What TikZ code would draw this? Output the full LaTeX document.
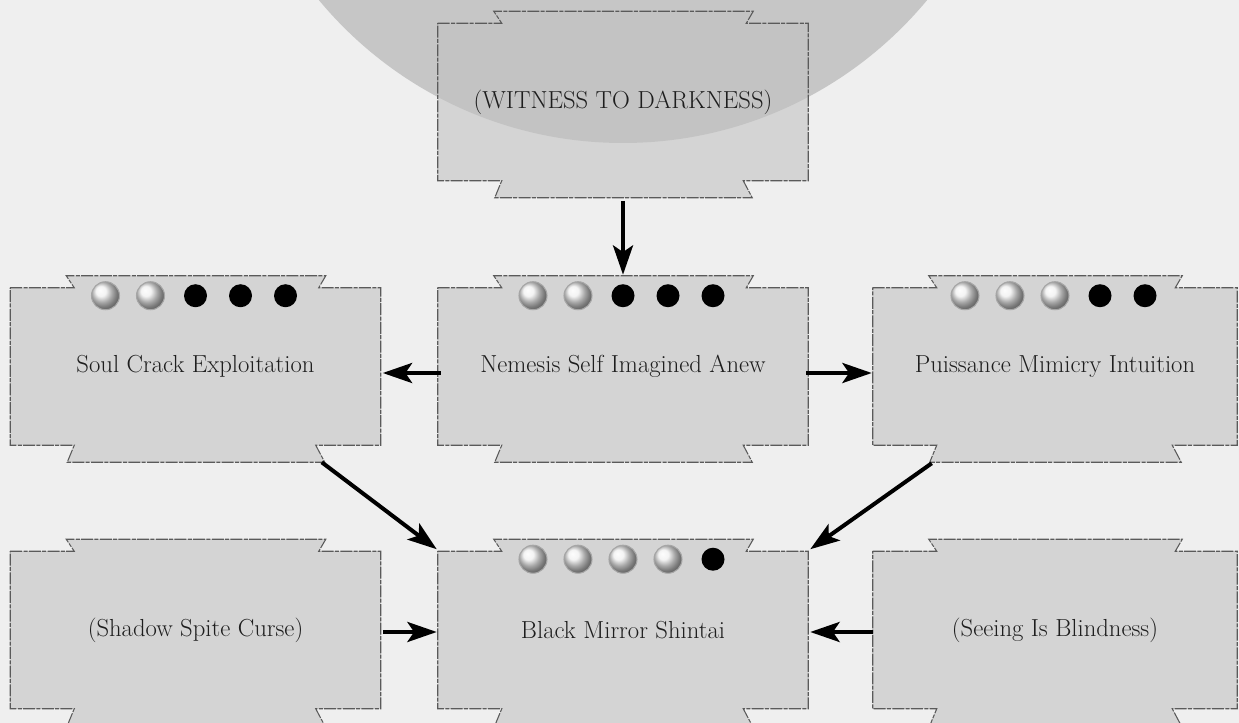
\documentclass[tikz,border=0pt]{standalone}
\usetikzlibrary{calc,arrows.meta,backgrounds,shadings}
\definecolor{bgc}{HTML}{EFEFEF}
\definecolor{circc}{HTML}{C6C6C6}
\definecolor{boxc}{HTML}{C2C2C2}
\definecolor{edgec}{HTML}{5A5A5A}
\definecolor{txtc}{HTML}{1E1E1E}
\newcommand\tabshape[1]{%
  \path[tabstyle] (#1.north west) -- ++(64,0) -- ++(-8,-12)
    -- ($(#1.north east)+(-55,-12)$) -- ++(-7,12) -- (#1.north east)
    -- (#1.south east) -- ++(-65,0) -- ++(9,17)
    -- ($(#1.south west)+(57,17)$) -- ++(7,-17) -- (#1.south west) -- cycle;}
\newcommand\rankdots[2]{%
  \foreach \k in {1,...,5}{%
    \ifnum\k>#2
      \fill[black] ($(#1.north)+({(\k-3)*45},8)$) circle[radius=11.5];
    \else
      \shade[ball color=gray!12] ($(#1.north)+({(\k-3)*45},8)$) circle[radius=14];
      \draw[gray!70, line width=0.8pt] ($(#1.north)+({(\k-3)*45},8)$) circle[radius=14];
    \fi}}
\begin{document}
\begin{tikzpicture}[x=0.75pt,y=-0.75pt,
  box/.style={draw=none, minimum width=277.5pt, minimum height=117.75pt,
    inner sep=0pt, text=txtc, font=\fontsize{18.5pt}{21pt}\selectfont},
  widebox/.style={box, minimum width=273pt},
  tabstyle/.style={fill=boxc, fill opacity=0.6, draw=edgec, line width=0.8pt,
    dash pattern=on 9pt off 1pt on 3pt off 1pt},
  arr/.style={line width=3pt, -{Stealth[length=22pt,width=15pt,inset=5pt]}}]
\useasboundingbox (0,0) rectangle (1239,723);
\node[box] (wit) at (623,102) {(WITNESS TO DARKNESS)};
\node[box] (soul) at (195.5,366.5) {Soul Crack Exploitation};
\node[box] (nem) at (623,366.5) {Nemesis Self Imagined Anew};
\node[widebox] (pui) at (1055,366.5) {Puissance Mimicry Intuition};
\node[box] (shad) at (195.5,630) {(Shadow Spite Curse)};
\node[box] (black) at (623,630) {Black Mirror Shintai};
\node[widebox] (see) at (1055,630) {(Seeing Is Blindness)};
\begin{pgfonlayer}{background}
  \fill[bgc] (0,0) rectangle (1239,723);
  \begin{scope}
    \clip (0,0) rectangle (1239,723);
    \fill[circc] (623,-252) circle[radius=395];
  \end{scope}
  \foreach \n in {wit,soul,nem,pui,shad,black,see}{\tabshape{\n}}
\end{pgfonlayer}
\rankdots{soul}{2}
\rankdots{nem}{2}
\rankdots{pui}{3}
\rankdots{black}{4}
\draw[arr] ($(wit.south)+(0,20)$) -- ($(nem.north)+(0,-13)$);
\draw[arr] ($(nem.west)+(3,6.5)$) -- ($(soul.east)+(2,6.5)$);
\draw[arr] ($(nem.east)+(-2,6.5)$) -- ($(pui.west)+(-1,6.5)$);
\draw[arr] ($(soul.south east)+(-59,17)$) -- ($(black.north west)+(-1,-2)$);
\draw[arr] ($(pui.south west)+(59,18)$) -- ($(black.north east)+(2,-2)$);
\draw[arr] ($(shad.east)+(2,2)$) -- ($(black.west)+(-1,2)$);
\draw[arr] ($(see.west)+(0,2)$) -- ($(black.east)+(2,2)$);
\end{tikzpicture}
\end{document}
